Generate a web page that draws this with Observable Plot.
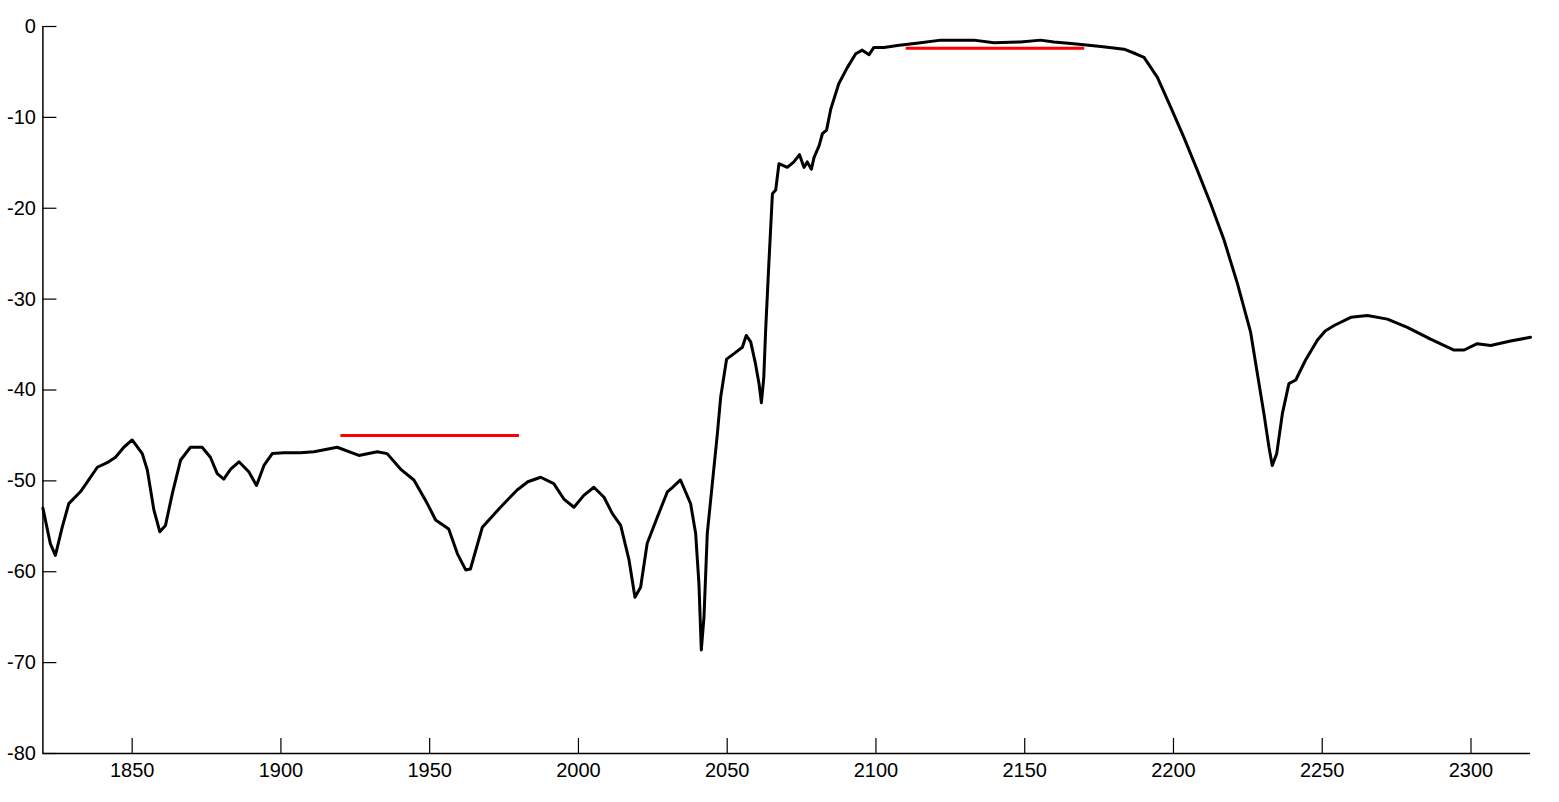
<!DOCTYPE html>
<html>
<head>
<meta charset="utf-8">
<script src="https://cdn.jsdelivr.net/npm/d3@7"></script>
<script src="https://cdn.jsdelivr.net/npm/@observablehq/plot@0.6"></script>
<style>
  html, body { margin: 0; padding: 0; background: #fff; }
  #chart svg { display: block; }
</style>
</head>
<body>
<div id="chart"></div>
<script>
// Wavelength / frequency values (x) of the response curve
const curveX = [
  1820.0, 1822.5, 1824.2, 1826.5, 1828.7, 1832.6, 1835.4, 1838.3, 1841.6, 1844.4,
  1847.2, 1850.0, 1853.4, 1855.1, 1857.3, 1859.3, 1861.2, 1863.5, 1866.3, 1869.6,
  1873.5, 1876.3, 1878.6, 1880.8, 1883.1, 1885.9, 1889.2, 1891.8, 1894.3, 1897.1,
  1901.0, 1906.6, 1911.1, 1918.9, 1926.2, 1932.4, 1935.7, 1940.2, 1944.7, 1949.2,
  1952.0, 1956.4, 1959.3, 1962.1, 1963.7, 1967.7, 1973.8, 1979.4, 1983.0, 1987.3, 1991.7,
  1995.1, 1998.5, 2001.8, 2005.2, 2008.6, 2011.4, 2014.2, 2017.0, 2019.0, 2020.9,
  2023.1, 2026.5, 2029.9, 2032.0, 2034.3, 2037.7, 2039.4, 2040.5, 2041.3, 2042.2, 2043.3,
  2045.0, 2046.7, 2047.8, 2049.8, 2052.3, 2055.1, 2056.4, 2057.9, 2059.5, 2060.7,
  2061.5, 2062.3, 2062.9, 2064.0, 2065.2, 2066.3, 2067.4, 2070.2, 2072.4, 2074.3,
  2075.8, 2076.9, 2078.3, 2079.2, 2080.9, 2082.0, 2083.4, 2084.8, 2087.5, 2090.4,
  2093.2, 2095.4, 2097.7, 2099.3, 2102.7, 2107.2, 2115.0, 2121.8, 2132.9, 2139.7,
  2148.6, 2155.3, 2159.8, 2166.5, 2175.6, 2183.4, 2187.3, 2190.1, 2194.6, 2199.1,
  2203.5, 2208.0, 2212.5, 2217.0, 2221.5, 2225.9, 2228.2, 2230.4, 2232.1, 2233.2,
  2234.7, 2236.6, 2238.8, 2241.1, 2244.4, 2248.4, 2251.0, 2254.0, 2259.6, 2265.2, 2271.9,
  2278.6, 2286.4, 2294.3, 2297.7, 2302.1, 2306.6, 2313.3, 2320.0
];
// Response values (y, dB) of the curve
const curveY = [
  -53.0, -56.9, -58.2, -55.1, -52.5, -51.2, -49.9, -48.5, -48.0, -47.4,
  -46.3, -45.5, -47.0, -48.8, -53.2, -55.6, -54.9, -51.4, -47.7, -46.3,
  -46.3, -47.4, -49.2, -49.8, -48.7, -47.9, -49.0, -50.5, -48.3, -47.0,
  -46.9, -46.9, -46.8, -46.3, -47.2, -46.8, -47.0, -48.7, -49.9, -52.5,
  -54.3, -55.3, -58.0, -59.8, -59.7, -55.1, -52.9, -51.0, -50.1, -49.6, -50.3,
  -52.0, -52.9, -51.6, -50.7, -51.8, -53.6, -54.9, -58.7, -62.8, -61.7,
  -56.9, -54.0, -51.2, -50.6, -49.9, -52.5, -55.8, -61.3, -68.6, -65.0, -55.8,
  -50.3, -44.8, -40.8, -36.6, -36.0, -35.3, -34.0, -34.7, -37.1, -39.3,
  -41.4, -38.6, -33.6, -26.1, -18.4, -18.0, -15.1, -15.5, -14.9, -14.1,
  -15.5, -14.9, -15.7, -14.4, -13.1, -11.8, -11.4, -9.1, -6.3, -4.5,
  -3.0, -2.6, -3.1, -2.3, -2.3, -2.1, -1.8, -1.5, -1.5, -1.8,
  -1.7, -1.5, -1.7, -1.9, -2.2, -2.5, -3.0, -3.4, -5.6, -8.9,
  -12.2, -15.8, -19.5, -23.5, -28.3, -33.6, -38.2, -42.6, -46.3, -48.3,
  -47.0, -42.6, -39.3, -38.9, -36.7, -34.5, -33.5, -32.9, -32.0, -31.8, -32.2,
  -33.1, -34.4, -35.6, -35.6, -34.9, -35.1, -34.6, -34.2
];
// Red reference (mask) segments
const maskX1 = [1920, 2110];
const maskX2 = [1980, 2170];
const maskY = [-45, -2.4];
// Axis ticks
const xTicks = [1850, 1900, 1950, 2000, 2050, 2100, 2150, 2200, 2250, 2300];
const yTicks = [0, -10, -20, -30, -40, -50, -60, -70, -80];
const xDomain = [1820, 2320];
const yDomain = [-80, 0];

const curve = curveX.map((x, i) => ({x, y: curveY[i]}));
const masks = maskX1.map((x1, i) => ({x1, x2: maskX2[i], y: maskY[i]}));

const chart = Plot.plot({
  width: 1559,
  height: 802,
  marginLeft: 42.4,
  marginRight: 29,
  marginTop: 26,
  marginBottom: 49,
  style: {fontFamily: "'Liberation Sans', Arial, sans-serif", fontSize: "20px", color: "#000", background: "#fff"},
  x: {domain: xDomain, label: null},
  y: {domain: yDomain, label: null},
  marks: [
    Plot.axisX(xTicks, {tickSize: 0, tickPadding: 9, tickFormat: d => String(d), fontSize: 20}),
    Plot.axisX(xTicks, {tickSize: -15, text: null, strokeWidth: 1.2}),
    Plot.axisY(yTicks, {tickSize: 0, tickPadding: 7, tickFormat: d => String(d), fontSize: 20}),
    Plot.axisY(yTicks, {tickSize: -14, text: null, strokeWidth: 1.2}),
    Plot.ruleX([xDomain[0]], {stroke: "#000", strokeWidth: 1.5}),
    Plot.ruleY([yDomain[0]], {stroke: "#000", strokeWidth: 1.5}),
    Plot.line(curve, {x: "x", y: "y", stroke: "#000", strokeWidth: 3, strokeLinejoin: "round", curve: "linear"}),
    Plot.link(masks, {x1: "x1", x2: "x2", y1: "y", y2: "y", stroke: "#f00", strokeWidth: 3})
  ]
});
document.getElementById("chart").appendChild(chart);
</script>
</body>
</html>
